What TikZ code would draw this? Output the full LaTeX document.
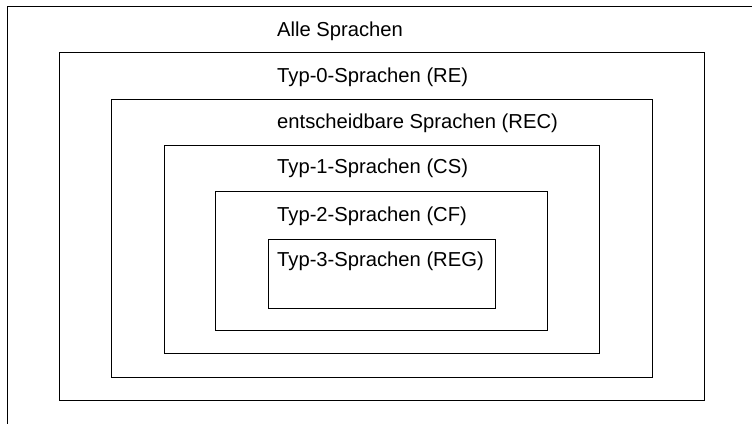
\documentclass[tikz,border=0pt]{standalone}
\usepackage{fontspec}
\setmainfont{Liberation Sans}
\begin{document}
\begin{tikzpicture}[x=1pt,y=-1pt,
  setbox/.style={draw=black,line width=1pt},
  setlabel/.style={anchor=base west,inner sep=0pt,font=\fontsize{20.2}{23}\selectfont}]
\useasboundingbox (0,0) rectangle (752,423);
\clip (0,0) rectangle (752,423);
\draw[setbox] (7.5,6.5) rectangle (770,440);
\draw[setbox] (59.5,52.5) rectangle (704,400);
\draw[setbox] (111.5,99) rectangle (652,377);
\draw[setbox] (164,145) rectangle (599.5,353.5);
\draw[setbox] (215.5,191.5) rectangle (547,330);
\draw[setbox] (268,239) rectangle (495,308);
\node[setlabel] (all) at (277,36) {Alle Sprachen};
\node[setlabel] (re) at (277,82) {Typ-0-Sprachen (RE)};
\node[setlabel] (rec) at (277,128) {entscheidbare Sprachen (REC)};
\node[setlabel] (cs) at (277,173) {Typ-1-Sprachen (CS)};
\node[setlabel] (cf) at (277,221) {Typ-2-Sprachen (CF)};
\node[setlabel] (reg) at (277,266) {Typ-3-Sprachen (REG)};
\end{tikzpicture}
\end{document}
